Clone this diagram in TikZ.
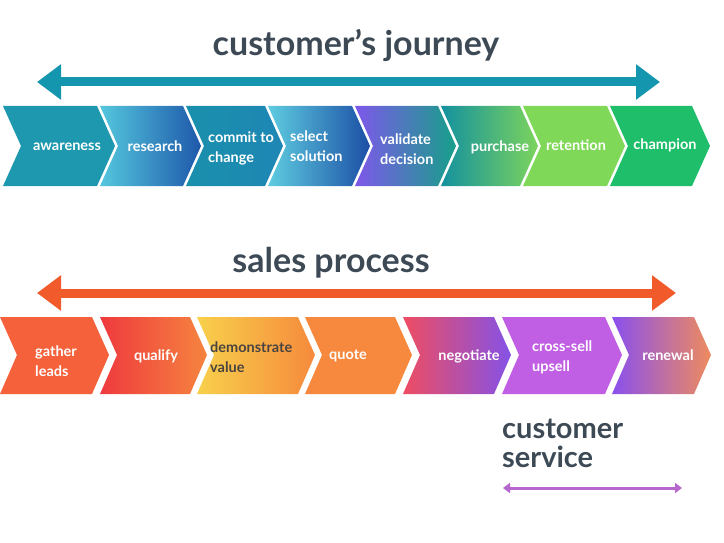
\documentclass[tikz,border=0pt]{standalone}
\usepackage{fontspec}
\setmainfont{Lato}
\usetikzlibrary{arrows.meta}
\definecolor{titlegrey}{HTML}{3D4A56}
\definecolor{journeyteal}{HTML}{1496AE}
\definecolor{salesred}{HTML}{F15A2B}
\definecolor{servicepurple}{HTML}{B766CE}
% top row
\definecolor{awareC}{HTML}{1E98AE}
\definecolor{researchL}{HTML}{54C7DD}
\definecolor{researchR}{HTML}{1E58AA}
\definecolor{commitL}{HTML}{1A90AC}
\definecolor{commitR}{HTML}{1E86B4}
\definecolor{selectL}{HTML}{5ECCE0}
\definecolor{selectR}{HTML}{1C4FA5}
\definecolor{validL}{HTML}{7E57EA}
\definecolor{validR}{HTML}{17A089}
\definecolor{purchL}{HTML}{14919F}
\definecolor{purchR}{HTML}{7CD45C}
\definecolor{retainC}{HTML}{80D858}
\definecolor{champC}{HTML}{1EBE6A}
% bottom row
\definecolor{gatherC}{HTML}{F4613B}
\definecolor{qualL}{HTML}{EE3A3E}
\definecolor{qualR}{HTML}{F6843F}
\definecolor{demoL}{HTML}{F8D04C}
\definecolor{demoR}{HTML}{F68A3C}
\definecolor{quoteC}{HTML}{F7893F}
\definecolor{negoL}{HTML}{EE4D62}
\definecolor{negoR}{HTML}{8552E6}
\definecolor{crossC}{HTML}{C15FE4}
\definecolor{renewL}{HTML}{8A50EE}
\definecolor{renewR}{HTML}{EE8B5E}
\definecolor{demotext}{HTML}{4A4440}

\begin{document}
\begin{tikzpicture}[x=1pt,y=-1pt,
  steptext/.style={text=white,font=\fontsize{14.5}{20}\selectfont\bfseries,inner sep=0pt,align=left},
  heading/.style={text=titlegrey,font=\fontsize{34}{34}\selectfont\bfseries,inner sep=0pt,align=left}]
  \useasboundingbox (0,0) rectangle (724,543);
  % customer's journey
  \node[heading] (cjtitle) at (356,45) {customer’s journey};
  \coordinate (cjl) at (37,82);
  \coordinate (cjr) at (660,82);
  \draw[journeyteal,line width=9pt,{Triangle[width=34pt,length=24pt]}-{Triangle[width=34pt,length=24pt]}] (cjl)--(cjr);
  \foreach \a/\b/\cl/\cr in {3/97/awareC/awareC,100/183/researchL/researchR,186/265/commitL/commitR,
      268/352/selectL/selectR,355/438/validL/validR,441/520/purchL/purchR,
      523/607/retainC/retainC,610/692/champC/champC}{
    \shade[left color=\cl,right color=\cr] (\a,106)--(\b,106)--(\b+18,146)--(\b,186)--(\a,186)--(\a+18,146)--cycle;}
  \node[steptext] (aware) at (67,147) {awareness};
  \node[steptext] (research) at (155,146) {research};
  \node[steptext,anchor=west] (commit) at (208,148) {commit to\\change};
  \node[steptext,anchor=west] (select) at (290,146) {select\\solution};
  \node[steptext,anchor=west] (validate) at (380,149) {validate\\decision};
  \node[steptext] (purchase) at (500,147) {purchase};
  \node[steptext] (retention) at (576,145) {retention};
  \node[steptext] (champion) at (665,145) {champion};
  % sales process
  \node[heading] (sptitle) at (331,263) {sales process};
  \coordinate (spl) at (37,293);
  \coordinate (spr) at (676,293);
  \draw[salesred,line width=9pt,{Triangle[width=34pt,length=24pt]}-{Triangle[width=34pt,length=24pt]}] (spl)--(spr);
  \foreach \a/\b/\cl/\cr in {0/92/gatherC/gatherC,100/190/qualL/qualR,197/298/demoL/demoR,
      305/395/quoteC/quoteC,403/494/negoL/negoR,502/605/crossC/crossC,612/694/renewL/renewR}{
    \shade[left color=\cl,right color=\cr] (\a,317)--(\b,317)--(\b+17,355)--(\b,394)--(\a,394)--(\a+17,355)--cycle;}
  \node[steptext,anchor=west] (gather) at (35,361) {gather\\leads};
  \node[steptext] (qualify) at (156,356) {qualify};
  \node[steptext,anchor=west,text=demotext] (demo) at (210,357) {demonstrate\\value};
  \node[steptext] (quote) at (348,356) {quote};
  \node[steptext] (negotiate) at (469,356) {negotiate};
  \node[steptext,anchor=west] (crosssell) at (532,357) {cross-sell\\upsell};
  \node[steptext] (renewal) at (668,355) {renewal};
  % customer service
  \node[heading,anchor=west,font=\fontsize{29}{29}\selectfont\bfseries] (cstitle) at (502,443) {customer\\service};
  \coordinate (csl) at (503,488);
  \coordinate (csr) at (682,488);
  \draw[servicepurple,line width=3pt,{Triangle[width=10pt,length=7pt]}-{Triangle[width=10pt,length=7pt]}] (csl)--(csr);
\end{tikzpicture}
\end{document}
